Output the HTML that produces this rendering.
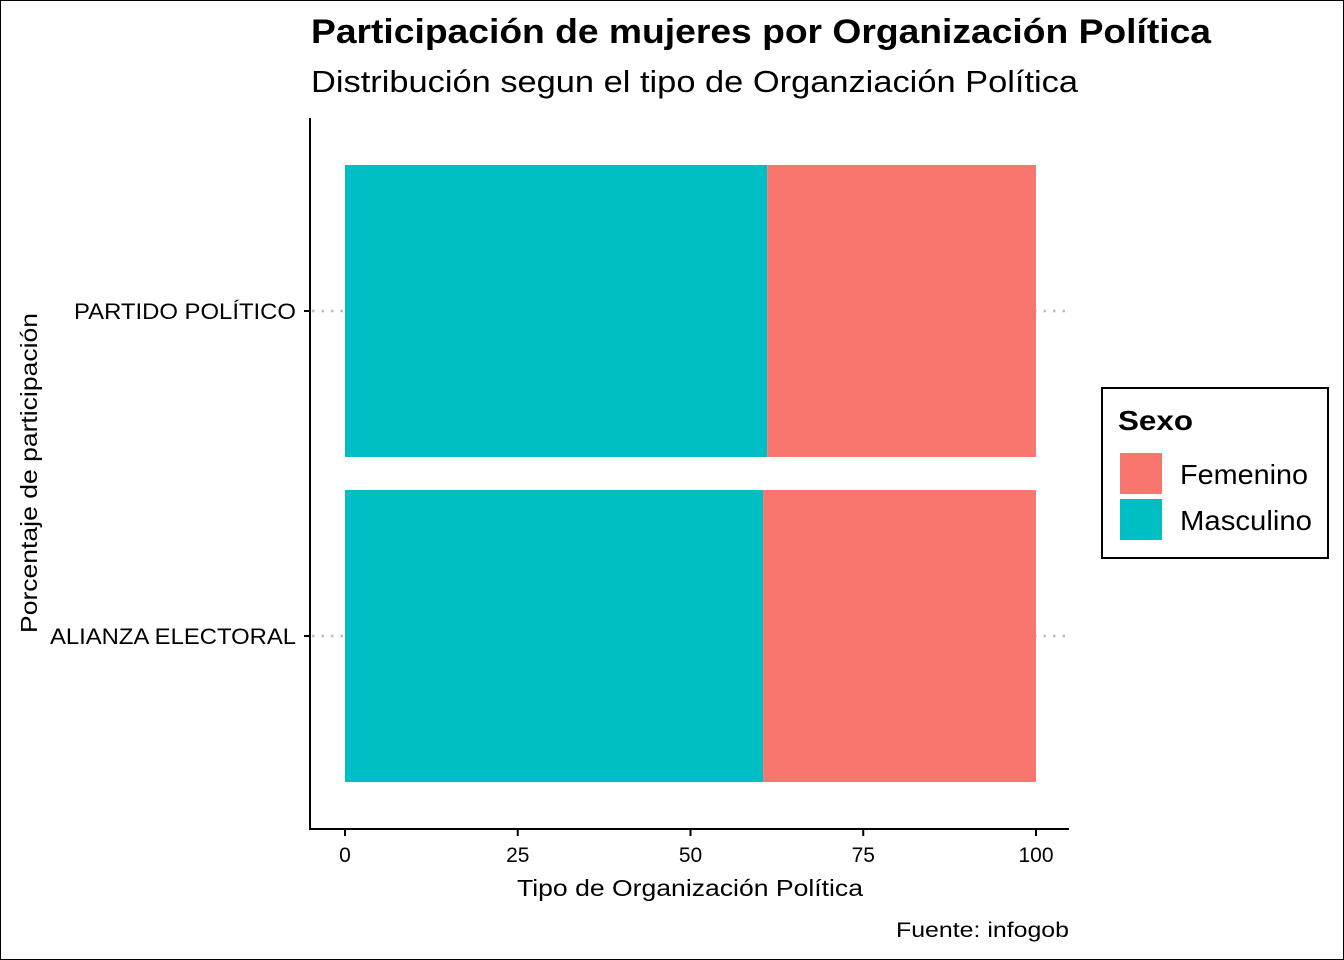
<!DOCTYPE html>
<html><head><meta charset="utf-8"><style>
body{margin:0;background:#fff}
svg{display:block;font-family:"Liberation Sans",Arial,sans-serif}
</style></head><body>
<svg id="chart" width="1344" height="960" viewBox="0 0 1344 960">
<rect x="0.5" y="0.5" width="1343" height="959" fill="#fff" stroke="#000"/>
<text x="311" y="43" font-size="34" font-weight="bold" textLength="900" lengthAdjust="spacingAndGlyphs">Participación de mujeres por Organización Política</text>
<text x="311" y="92" font-size="31" textLength="767" lengthAdjust="spacingAndGlyphs">Distribución segun el tipo de Organziación Política</text>
<g id="grid"></g>
<g id="bars"></g>
<line x1="310" y1="118" x2="310" y2="830" stroke="#000" stroke-width="2"/>
<line x1="309" y1="829" x2="1069" y2="829" stroke="#000" stroke-width="2"/>
<g id="xticks"></g>
<g id="yticks"></g>
<text x="517" y="896" font-size="23" textLength="346" lengthAdjust="spacingAndGlyphs">Tipo de Organización Política</text>
<text transform="translate(37,633) rotate(-90)" font-size="23" textLength="320" lengthAdjust="spacingAndGlyphs">Porcentaje de participación</text>
<text x="896" y="937" font-size="21" textLength="173" lengthAdjust="spacingAndGlyphs">Fuente: infogob</text>
<g>
<rect x="1102" y="388" width="226" height="170" fill="#fff" stroke="#000" stroke-width="2"/>
<text x="1118" y="430" font-size="28" font-weight="bold" textLength="75" lengthAdjust="spacingAndGlyphs">Sexo</text>
<rect x="1120" y="453" width="42" height="41" fill="#F8766D"/>
<text x="1180" y="484" font-size="28" textLength="128" lengthAdjust="spacingAndGlyphs">Femenino</text>
<rect x="1120" y="499" width="42" height="41" fill="#00BFC4"/>
<text x="1180" y="530" font-size="28" textLength="132" lengthAdjust="spacingAndGlyphs">Masculino</text>
</g>
</svg>
<script>
const categories=["PARTIDO POLÍTICO","ALIANZA ELECTORAL"];
const masculino=[61.1,60.5];
const femenino=[38.9,39.5];
const xTicks=[0,25,50,75,100];
const NS="http://www.w3.org/2000/svg";
function xs(v){return 345+v*6.91;}
function yc(i){return 311+i*325;}
const bandH=292;
const labelW=[222,246];
function mk(tag,attrs,parent){const e=document.createElementNS(NS,tag);for(const k in attrs)e.setAttribute(k,attrs[k]);parent.appendChild(e);return e;}
const grid=document.getElementById('grid'),bars=document.getElementById('bars'),xt=document.getElementById('xticks'),yt=document.getElementById('yticks');
categories.forEach((c,i)=>{
 const y=yc(i);
 const g=mk('line',{x1:312,x2:1069,y1:y,y2:y,stroke:'#bdbdbd','stroke-width':2.5,'stroke-dasharray':'2.5,7'},grid);
 
 
 const m=mk('rect',{x:xs(0),y:y-bandH/2,width:xs(masculino[i])-xs(0),height:bandH,fill:'#00BFC4'},bars);
 
 
 const f=mk('rect',{x:xs(masculino[i]),y:y-bandH/2,width:xs(masculino[i]+femenino[i])-xs(masculino[i]),height:bandH,fill:'#F8766D'},bars);
 
 
 const tk=mk('line',{x1:304,x2:310,y1:y,y2:y,stroke:'#000','stroke-width':2},yt);
 
 
 const t=mk('text',{x:296-labelW[i],y:y+8,'font-size':22,textLength:labelW[i],lengthAdjust:'spacingAndGlyphs'},yt);
 t.textContent=c;
 
 
});
xTicks.forEach(v=>{
 const x=xs(v);
 const tk=mk('line',{x1:x,x2:x,y1:829,y2:836,stroke:'#000','stroke-width':2},xt);
 
 
 const t=mk('text',{x:x,y:862,'font-size':21,'text-anchor':'middle'},xt);
 t.textContent=v;
 
 
});
</script>
</body></html>
